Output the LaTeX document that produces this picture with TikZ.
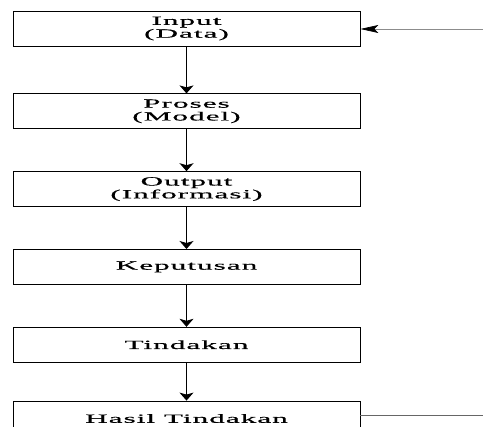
\documentclass[tikz,border=0pt]{standalone}
\usepackage{fontspec}
\newfontfamily\boxfont[FakeStretch=2.5,LetterSpace=8,FakeBold=0.5]{Liberation Serif}
\usepackage{tikz}
\usetikzlibrary{arrows.meta,positioning}

\begin{document}
\begin{tikzpicture}[node distance=42pt,box node/.style={rectangle,draw,line width=0.8pt,minimum width=347pt,minimum height=35pt,inner sep=0pt,align=center,font=\boxfont\fontsize{12.5}{12.8}\selectfont}]
        		\path[use as bounding box,clip] (0,0) rectangle (483pt,-427pt);
        		%nodes
        			  \node[box node] (input) at (186.5pt,-28.5pt) {Input\\(Data)\rule[-1.5pt]{0pt}{0pt}};
        			  \node[box node] (proses) [below=47pt of input] {Proses\\(Model)\rule[-1.5pt]{0pt}{0pt}};
        			  \node[box node] (output) [below=of proses] {Output\\(Informasi)\rule[-1.5pt]{0pt}{0pt}};
        			  \node[box node] (keputusan) [below=of output] {Keputusan};
        			  \node[box node] (tindakan) [below=of keputusan] {Tindakan};
        			  \node[box node] (hasil) [below=38pt of tindakan] {Hasil Tindakan};
        			  \coordinate (inend) at (483pt,-29pt);
        			  \coordinate (outend) at (483pt,-415pt);
        		%Edges
        			  \path[line width=0.9pt,-{Stealth[width=14pt,length=8pt,inset=2pt]}]
        			  (input) edge (proses)
        			  (proses) edge (output)
        			  (output) edge (keputusan)
        			  (keputusan) edge (tindakan)
        			  (tindakan) edge (hasil);
        			  \path[draw=black!45,line width=0.7pt] (inend) edge[-{Stealth[length=18pt,width=8pt,inset=4pt,black]}] (input.east|-inend);
        			  \path[draw=black!60,line width=0.6pt] (hasil.east|-outend) edge (outend);
        \end{tikzpicture}
\end{document}
